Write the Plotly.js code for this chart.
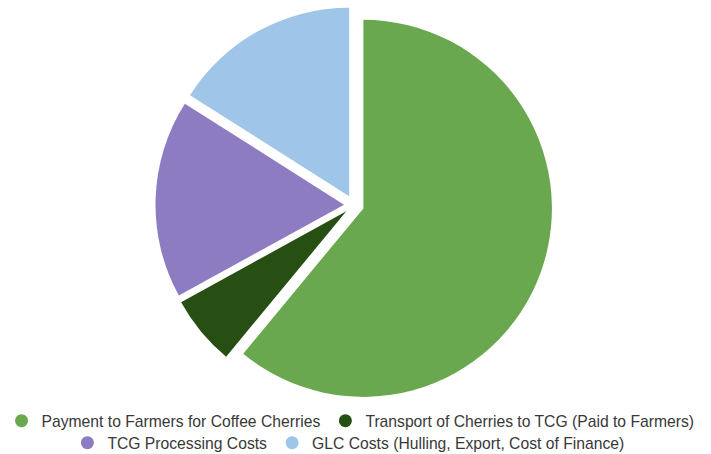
<!DOCTYPE html>
<html>
<head>
<meta charset="utf-8">
<script src="https://cdn.plot.ly/plotly-3.0.1.min.js"></script>
<style>html,body{margin:0;padding:0;background:#fff;}#chart{width:711px;height:454px;}</style>
</head>
<body>
<div id="chart"></div>
<script>
var categories = [
  "Payment to Farmers for Coffee Cherries",
  "Transport of Cherries to TCG (Paid to Farmers)",
  "TCG Processing Costs",
  "GLC Costs (Hulling, Export, Cost of Finance)"
];
var shares = [61, 6, 17, 16];
var colors = ["#6aa84f", "#274e13", "#8e7cc3", "#9fc5e8"];
var legendRow = ["legend", "legend", "legend2", "legend2"];

var traces = [{
  type: "pie",
  labels: categories,
  values: shares,
  sort: false,
  direction: "clockwise",
  rotation: 0,
  pull: [0.053, 0.053, 0.053, 0.053],
  marker: {colors: colors, line: {color: "#ffffff", width: 0}},
  textinfo: "none",
  hoverinfo: "label+percent",
  showlegend: false,
  domain: {x: [0, 0.9958], y: [0.1112, 0.9857]}
}];
categories.forEach(function (c, i) {
  traces.push({
    type: "scatter", mode: "markers", x: [null], y: [null], name: c,
    marker: {color: colors[i], size: 13, symbol: "circle"},
    showlegend: true, hoverinfo: "skip", legend: legendRow[i]
  });
});

var legendFont = {family: "Liberation Sans, Arial, sans-serif", size: 15.7, color: "#383838"};
var layout = {
  width: 711, height: 454,
  margin: {l: 0, r: 0, t: 0, b: 0, autoexpand: false},
  paper_bgcolor: "#ffffff", plot_bgcolor: "#ffffff",
  xaxis: {visible: false, domain: [0, 1]}, yaxis: {visible: false, domain: [0, 1]},
  showlegend: true,
  legend: {
    orientation: "h", x: 0.493, xanchor: "center", y: 0.0727, yanchor: "middle",
    font: legendFont, itemwidth: 30, bgcolor: "rgba(0,0,0,0)"
  },
  legend2: {
    orientation: "h", x: 0.490, xanchor: "center", y: 0.0242, yanchor: "middle",
    font: legendFont, itemwidth: 30, bgcolor: "rgba(0,0,0,0)"
  }
};
Plotly.newPlot("chart", traces, layout, {displayModeBar: false, staticPlot: true});
</script>
</body>
</html>
